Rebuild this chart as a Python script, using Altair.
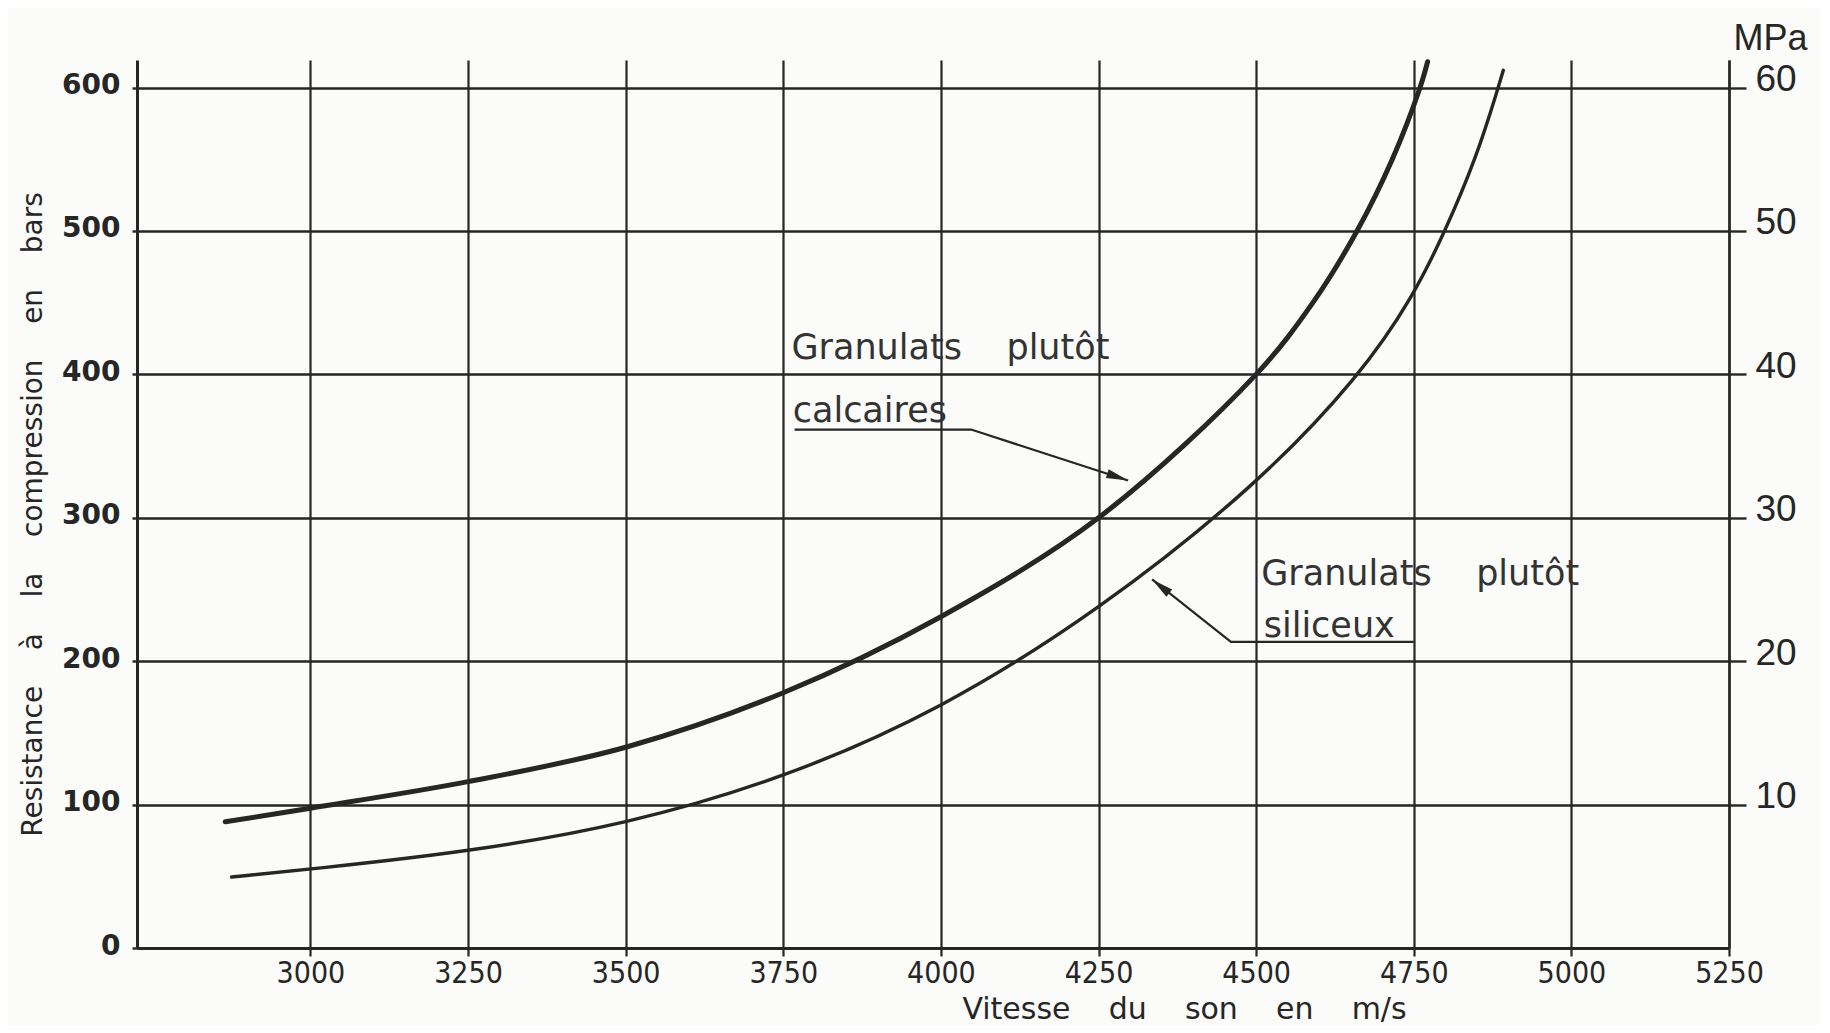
import math
import altair as alt
import pandas as pd

# ---------------- data ----------------
# Curve 1: "Granulats plutôt calcaires" (thick curve)
vitesse_calc = [2865, 3000, 3250, 3500, 3750, 4000, 4250, 4500, 4590, 4660, 4716, 4760, 4772]
resist_calc = [88, 97.5, 116, 140, 178, 231, 300, 400, 450, 500, 550, 600, 618]

# Curve 2: "Granulats plutôt siliceux" (thin curve)
vitesse_sil = [2875, 3000, 3250, 3500, 3750, 4000, 4250, 4500, 4667, 4750, 4800, 4850, 4884, 4892]
resist_sil = [49.5, 55, 67, 86, 118, 166, 235, 322, 400, 455, 500, 552, 600, 612]

# axes
x_ticks = [3000, 3250, 3500, 3750, 4000, 4250, 4500, 4750, 5000, 5250]
y_ticks_bars = [0, 100, 200, 300, 400, 500, 600]
y_ticks_mpa = [100, 200, 300, 400, 500, 600]   # shown as 10..60 MPa
x_domain = [2725, 5250]
y_domain = [0, 619.2]

# annotations
label_text = ["Granulats\u00a0\u00a0\u00a0\u00a0plutôt", "calcaires",
              "Granulats\u00a0\u00a0\u00a0\u00a0plutôt", "siliceux"]
label_x = [3763, 3765, 4508, 4512]
label_y = [411, 367, 253, 217]

leader_calc_x = [3768, 4048, 4297]
leader_calc_y = [361.5, 361.5, 326]
leader_sil_x = [4750, 4460, 4335]
leader_sil_y = [213.5, 213.5, 257]

# ---------------- layout / style ----------------
W, H = 1592, 888
ink = "#262626"

df_calc = pd.DataFrame({"v": vitesse_calc, "r": resist_calc})
df_sil = pd.DataFrame({"v": vitesse_sil, "r": resist_sil})
df_lab = pd.DataFrame({"v": label_x, "r": label_y, "t": label_text})

lead_rows = []
for i, (a, b) in enumerate(zip(leader_calc_x, leader_calc_y)):
    lead_rows.append({"v": a, "r": b, "k": "calc", "o": i})
for i, (a, b) in enumerate(zip(leader_sil_x, leader_sil_y)):
    lead_rows.append({"v": a, "r": b, "k": "sil", "o": i})
df_lead = pd.DataFrame(lead_rows)

px_x = W / (x_domain[1] - x_domain[0])
px_y = H / (y_domain[1] - y_domain[0])


def arrow_angle(xs, ys):
    dx = (xs[-1] - xs[-2]) * px_x
    dy = -(ys[-1] - ys[-2]) * px_y
    return math.degrees(math.atan2(dx, -dy)) % 360


df_tip = pd.DataFrame({
    "v": [leader_calc_x[-1], leader_sil_x[-1]],
    "r": [leader_calc_y[-1], leader_sil_y[-1]],
    "a": [arrow_angle(leader_calc_x, leader_calc_y), arrow_angle(leader_sil_x, leader_sil_y)],
})

x_scale = alt.Scale(domain=x_domain, nice=False, zero=False)
y_scale = alt.Scale(domain=y_domain, nice=False, zero=False)

x_axis = alt.Axis(
    values=x_ticks, format="d", grid=True, gridColor=ink, gridWidth=2.2, gridOpacity=1,
    domain=True, domainColor=ink, domainWidth=3,
    ticks=True, tickSize=8, tickColor=ink, tickWidth=2.2,
    labelFont="DejaVu Sans Condensed, Liberation Sans Narrow, DejaVu Sans",
    labelFontSize=30, labelColor=ink, labelPadding=2, labelFlush=False, labelOverlap=False,
    title="Vitesse\u00a0\u00a0\u00a0\u00a0du\u00a0\u00a0\u00a0\u00a0son\u00a0\u00a0\u00a0\u00a0en\u00a0\u00a0\u00a0\u00a0m/s",
    titleFont="DejaVu Sans", titleFontSize=30, titleFontWeight="normal", titleColor=ink,
    titleX=1047, titleY=70, titleAlign="center", titleBaseline="alphabetic", titleAnchor="start",
)

y_axis_left = alt.Axis(
    values=y_ticks_bars, format="d", orient="left", grid=True, gridColor=ink, gridWidth=2.4, gridOpacity=1,
    domain=True, domainColor=ink, domainWidth=3,
    ticks=True, tickSize=5, tickColor=ink, tickWidth=2.4,
    labelFont="DejaVu Sans", labelFontSize=28, labelFontWeight="bold", labelColor=ink,
    labelPadding=12, labelOffset=-2, labelFlush=False, labelOverlap=False,
    title="Resistance\u00a0\u00a0\u00a0\u00a0à\u00a0\u00a0\u00a0\u00a0la\u00a0\u00a0\u00a0\u00a0compression\u00a0\u00a0\u00a0\u00a0en\u00a0\u00a0\u00a0\u00a0bars",
    titleFont="DejaVu Sans", titleFontSize=28, titleFontWeight="normal", titleColor=ink,
    titleAngle=270, titleX=-104, titleY=454, titleAlign="center", titleBaseline="middle",
)

y_axis_right = alt.Axis(
    values=y_ticks_mpa, orient="right", grid=False, labelExpr="datum.value / 10",
    domain=True, domainColor=ink, domainWidth=2.4,
    ticks=True, tickSize=17, tickColor=ink, tickWidth=2.4,
    labelFont="Liberation Sans", labelFontSize=37, labelColor=ink,
    labelPadding=9, labelOffset=-8, labelFlush=False, labelOverlap=False,
    title="MPa", titleFont="Liberation Sans", titleFontSize=36, titleFontWeight="normal",
    titleColor=ink, titleAngle=0, titleX=4, titleY=-11, titleAlign="left",
    titleBaseline="alphabetic",
)

calc_line = alt.Chart(df_calc).mark_line(
    interpolate="catmull-rom", strokeWidth=5, color=ink, strokeCap="round"
).encode(
    x=alt.X("v:Q", scale=x_scale, axis=x_axis),
    y=alt.Y("r:Q", scale=y_scale, axis=y_axis_left),
)

leaders = alt.Chart(df_lead).mark_line(strokeWidth=2.2, color=ink).encode(
    x=alt.X("v:Q", scale=x_scale, axis=x_axis),
    y=alt.Y("r:Q", scale=y_scale, axis=y_axis_left),
    detail="k:N",
    order="o:Q",
)

tips = alt.Chart(df_tip).mark_point(
    shape="M0,0L0.42,2L-0.42,2Z", filled=True, opacity=1, color=ink, size=480, strokeWidth=0
).encode(
    x=alt.X("v:Q", scale=x_scale, axis=x_axis),
    y=alt.Y("r:Q", scale=y_scale, axis=y_axis_left),
    angle=alt.Angle("a:Q", scale=None),
)

texts = alt.Chart(df_lab).mark_text(
    align="left", baseline="alphabetic", font="DejaVu Sans", fontSize=35, color="#333333"
).encode(
    x=alt.X("v:Q", scale=x_scale, axis=x_axis),
    y=alt.Y("r:Q", scale=y_scale, axis=y_axis_left),
    text="t:N",
)

left_group = alt.layer(calc_line, leaders, tips, texts)

sil_line = alt.Chart(df_sil).mark_line(
    interpolate="basis", strokeWidth=3.4, color=ink, strokeCap="round"
).encode(
    x=alt.X("v:Q", scale=x_scale, axis=x_axis),
    y=alt.Y("r:Q", scale=y_scale, axis=y_axis_right),
)

chart = alt.layer(left_group, sil_line).resolve_scale(y="independent").properties(
    width=W,
    height=H,
    autosize=alt.AutoSizeParams(type="none"),
    padding={"left": 129, "top": 52, "right": 90, "bottom": 77},
).configure(background="#fbfbf9").configure_view(stroke=None)

chart.save("out.html", embed_options={"renderer": "svg", "actions": False})
